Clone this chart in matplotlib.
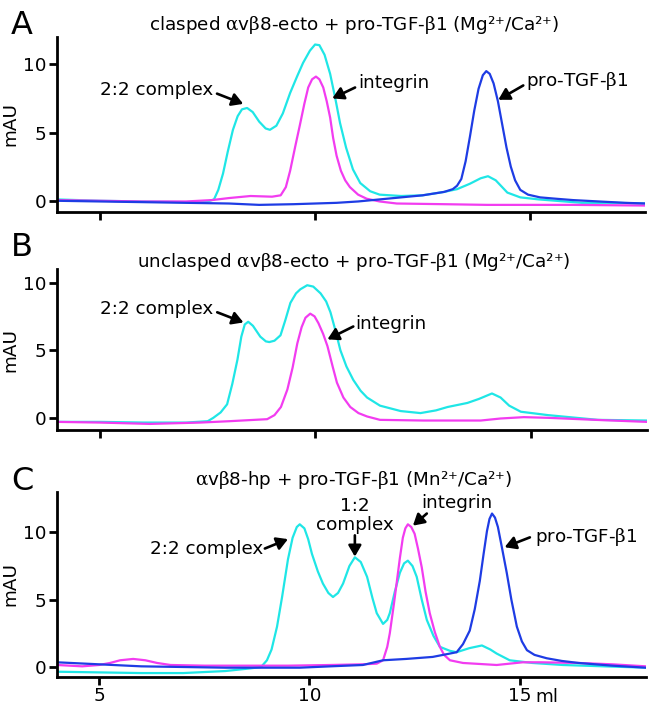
import matplotlib
matplotlib.use("Agg")
import matplotlib.pyplot as plt

plt.rcParams['font.family'] = ['DejaVu Sans']
plt.rcParams['mathtext.fontset'] = 'custom'
plt.rcParams['mathtext.rm'] = 'DejaVu Serif'
plt.rcParams['mathtext.it'] = 'DejaVu Serif:italic'
plt.rcParams['mathtext.bf'] = 'DejaVu Serif:bold'

# ---------------- data (elution volume ml, absorbance mAU) ----------------
a_cyan_x = [4.0, 5.0, 6.0, 7.0, 7.5, 7.65, 7.75, 7.86, 7.97, 8.09, 8.2, 8.3, 8.42, 8.55, 8.7, 8.85,
            8.95, 9.1, 9.25, 9.42, 9.58, 9.72, 9.88, 10.0, 10.1, 10.22, 10.35, 10.47, 10.58, 10.72,
            10.88, 11.05, 11.28, 11.5, 12.0, 12.5, 13.0, 13.3, 13.6, 13.85, 14.02, 14.2, 14.47,
            14.77, 15.2, 16.2, 17.0, 17.7]
a_cyan_y = [0.1, 0.0, -0.05, -0.1, -0.05, 0.1, 0.8, 2.0, 3.6, 5.2, 6.2, 6.7, 6.8, 6.5, 5.8, 5.3,
            5.2, 5.5, 6.4, 7.9, 9.1, 10.1, 11.0, 11.45, 11.4, 10.7, 9.3, 7.5, 5.7, 3.9,
            2.3, 1.3, 0.7, 0.45, 0.35, 0.4, 0.65, 0.85, 1.25, 1.65, 1.8, 1.5, 0.6,
            0.25, 0.1, -0.15, -0.15, -0.2]

a_mag_x = [4.0, 5.0, 6.0, 7.0, 7.6, 8.0, 8.5, 9.0, 9.2, 9.32, 9.42, 9.54, 9.65, 9.75, 9.84, 9.93,
           10.02, 10.1, 10.19, 10.27, 10.35, 10.42, 10.5, 10.6, 10.7, 10.81, 11.0, 11.2, 11.5,
           11.9, 13.0, 14.0, 15.0, 16.0, 17.7]
a_mag_y = [0.05, 0.0, -0.05, -0.05, 0.05, 0.2, 0.35, 0.3, 0.4, 1.0, 2.2, 4.0, 5.6, 7.1, 8.3, 8.9,
           9.1, 8.9, 8.3, 7.3, 6.1, 4.6, 3.3, 2.2, 1.5, 1.0, 0.45, 0.15, -0.05,
           -0.2, -0.25, -0.3, -0.3, -0.3, -0.35]

a_blue_x = [4.0, 5.0, 6.0, 7.0, 8.0, 8.7, 9.5, 10.0, 10.5, 11.0, 11.5, 12.0, 12.5, 13.0, 13.2,
            13.3, 13.4, 13.5, 13.6, 13.7, 13.8, 13.9, 13.98, 14.06, 14.15, 14.25, 14.35, 14.45,
            14.55, 14.65, 14.77, 14.95, 15.23, 15.6, 16.0, 16.6, 17.2, 17.7]
a_blue_y = [0.0, -0.05, -0.1, -0.15, -0.2, -0.3, -0.25, -0.2, -0.15, -0.05, 0.1, 0.25, 0.4, 0.65,
            0.85, 1.1, 1.6, 2.9, 4.7, 6.6, 8.2, 9.2, 9.5, 9.3, 8.6, 7.3, 5.6, 3.9,
            2.5, 1.5, 0.8, 0.45, 0.25, 0.15, 0.05, -0.05, -0.15, -0.2]

b_cyan_x = [4.0, 5.0, 6.0, 7.0, 7.5, 7.63, 7.8, 7.95, 8.07, 8.19, 8.28, 8.36, 8.44, 8.55, 8.72,
            8.85, 8.93, 9.05, 9.19, 9.3, 9.42, 9.55, 9.65, 9.81, 9.95, 10.12, 10.25, 10.35, 10.47,
            10.58, 10.72, 10.88, 11.05, 11.2, 11.5, 11.98, 12.44, 12.8, 13.07, 13.53, 13.8, 14.1,
            14.3, 14.5, 14.77, 15.4, 16.56, 17.7]
b_cyan_y = [-0.3, -0.3, -0.35, -0.35, -0.25, 0.0, 0.4, 1.0, 2.5, 4.3, 6.0, 6.9, 7.1, 6.8, 6.0,
            5.65, 5.6, 5.7, 6.1, 7.2, 8.5, 9.2, 9.5, 9.8, 9.7, 9.2, 8.6, 7.8, 6.4,
            5.0, 3.8, 2.8, 2.0, 1.5, 0.9, 0.5, 0.35, 0.55, 0.8, 1.1, 1.4, 1.8,
            1.5, 0.9, 0.45, 0.2, -0.15, -0.2]

b_mag_x = [4.0, 5.0, 6.16, 7.33, 8.0, 8.88, 9.05, 9.2, 9.35, 9.47, 9.58, 9.68, 9.77, 9.88, 9.98,
           10.07, 10.18, 10.28, 10.4, 10.5, 10.65, 10.81, 11.0, 11.2, 11.5, 12.5, 13.84, 14.3,
           14.84, 15.4, 16.5, 17.7]
b_mag_y = [-0.3, -0.35, -0.45, -0.35, -0.25, -0.1, 0.2, 0.8, 2.1, 3.7, 5.5, 6.7, 7.4, 7.7, 7.5,
           7.0, 6.2, 5.3, 3.8, 2.6, 1.5, 0.8, 0.35, 0.1, -0.15, -0.2, -0.2, -0.05,
           0.05, 0.0, -0.15, -0.3]

c_cyan_x = [4.0, 5.0, 6.0, 7.0, 8.0, 8.6, 8.85, 8.99, 9.1, 9.23, 9.35, 9.49, 9.6, 9.7, 9.77, 9.88,
            9.97, 10.06, 10.2, 10.32, 10.45, 10.56, 10.68, 10.8, 10.95, 11.08, 11.22, 11.37, 11.5,
            11.6, 11.75, 11.85, 11.91, 12.03, 12.15, 12.25, 12.34, 12.45, 12.55, 12.67, 12.79,
            12.95, 13.1, 13.34, 13.5, 13.8, 14.1, 14.3, 14.45, 14.76, 15.3, 16.02, 17.0, 18.0]
c_cyan_y = [-0.35, -0.4, -0.45, -0.45, -0.3, -0.1, 0.0, 0.5, 1.3, 3.0, 5.2, 8.0, 9.6, 10.4, 10.6,
            10.3, 9.5, 8.4, 7.1, 6.2, 5.5, 5.2, 5.5, 6.2, 7.5, 8.15, 7.8, 6.7, 5.1,
            4.0, 3.2, 3.5, 4.0, 5.6, 7.0, 7.7, 7.9, 7.5, 6.7, 5.0, 3.5,
            2.3, 1.5, 1.2, 1.1, 1.4, 1.6, 1.3, 1.0, 0.5, 0.3, 0.15, 0.05, -0.05]

c_mag_x = [4.0, 4.6, 5.0, 5.26, 5.5, 5.81, 6.1, 6.38, 6.7, 7.5, 8.5, 9.5, 10.5, 11.27, 11.6, 11.75,
           11.85, 11.91, 12.0, 12.08, 12.15, 12.22, 12.28, 12.34, 12.42, 12.5, 12.58, 12.67,
           12.76, 12.86, 12.98, 13.1, 13.2, 13.34, 13.65, 14.45, 15.07, 15.5, 16.4, 17.2, 18.0]
c_mag_y = [0.15, 0.05, 0.15, 0.3, 0.5, 0.6, 0.5, 0.3, 0.15, 0.1, 0.1, 0.1, 0.15, 0.2, 0.25, 0.5,
           1.5, 2.5, 4.5, 6.4, 8.1, 9.6, 10.3, 10.6, 10.4, 9.9, 8.8, 7.4,
           5.6, 4.0, 2.6, 1.5, 0.9, 0.5, 0.3, 0.15, 0.35, 0.35, 0.3, 0.2, 0.05]

c_blue_x = [4.0, 5.0, 6.0, 7.0, 8.0, 9.0, 9.77, 10.5, 11.27, 11.75, 12.3, 12.93, 13.34, 13.5,
            13.65, 13.81, 13.93, 14.05, 14.14, 14.22, 14.28, 14.34, 14.41, 14.48, 14.58, 14.69,
            14.8, 14.93, 15.05, 15.17, 15.35, 15.64, 16.0, 16.4, 17.2, 18.0]
c_blue_y = [0.35, 0.2, 0.05, 0.0, -0.05, -0.05, -0.05, 0.05, 0.15, 0.5, 0.6, 0.75, 1.0, 1.1,
            1.7, 2.7, 4.3, 6.4, 8.4, 10.1, 11.0, 11.4, 11.1, 10.4, 8.8, 7.0,
            5.0, 3.0, 1.9, 1.25, 0.9, 0.65, 0.45, 0.3, 0.1, -0.05]

x_ticks = [5, 10, 15]
y_ticks = [0, 5, 10]

titles = [r'clasped $\mathrm{\alpha}$v$\mathrm{\beta}$8-ecto + pro-TGF-$\mathrm{\beta}$1 (Mg²⁺/Ca²⁺)',
          r'unclasped $\mathrm{\alpha}$v$\mathrm{\beta}$8-ecto + pro-TGF-$\mathrm{\beta}$1 (Mg²⁺/Ca²⁺)',
          r'$\mathrm{\alpha}$v$\mathrm{\beta}$8-hp + pro-TGF-$\mathrm{\beta}$1 (Mn²⁺/Ca²⁺)']
panel_letters = ['A', 'B', 'C']

CYAN = '#1fe6e6'
MAG = '#f23cf0'
BLUE = '#1e3ce4'

W, H = 653, 707
fig = plt.figure(figsize=(W / 100, H / 100), dpi=100)

def frac(l, r, top, bot):
    return [l / W, 1 - bot / H, (r - l) / W, (bot - top) / H]

axA = fig.add_axes(frac(57, 645, 37, 211.7))
axB = fig.add_axes(frac(57, 647, 269, 430))
axC = fig.add_axes(frac(57, 646, 492, 676.7))

lw = 1.6
axA.plot(a_cyan_x, a_cyan_y, color=CYAN, lw=lw)
axA.plot(a_mag_x, a_mag_y, color=MAG, lw=lw)
axA.plot(a_blue_x, a_blue_y, color=BLUE, lw=lw)
axA.set_xlim(4.0, 17.67)
axA.set_ylim(-0.8, 12.0)

axB.plot(b_cyan_x, b_cyan_y, color=CYAN, lw=lw)
axB.plot(b_mag_x, b_mag_y, color=MAG, lw=lw)
axB.set_xlim(4.0, 17.7)
axB.set_ylim(-0.9, 11.0)

axC.plot(c_cyan_x, c_cyan_y, color=CYAN, lw=lw)
axC.plot(c_mag_x, c_mag_y, color=MAG, lw=lw)
axC.plot(c_blue_x, c_blue_y, color=BLUE, lw=lw)
axC.set_xlim(4.0, 18.0)
axC.set_ylim(-0.72, 13.0)

FS = 13.2
for ax in (axA, axB, axC):
    for s in ('top', 'right'):
        ax.spines[s].set_visible(False)
    for s in ('left', 'bottom'):
        ax.spines[s].set_linewidth(2.0)
    ax.set_xticks(x_ticks)
    ax.set_yticks(y_ticks)
    ax.tick_params(direction='out', length=5.5, width=2.0, labelsize=FS, pad=2.0)
    ax.set_ylabel('mAU', fontsize=FS, labelpad=3)
    ax.patch.set_alpha(0)

axA.set_xticklabels([])
axB.set_xticklabels([])
axC.set_xticklabels(['5', '10', '15'])
axC.annotate('ml', xy=(15.36, 0), xycoords=('data', 'axes fraction'),
             xytext=(0, -14.5), textcoords='offset points', ha='left', va='center',
             fontsize=FS, annotation_clip=False)

# titles and panel letters
title_py = [25, 262, 480]
letter_py = [25, 248, 482]
for t, ty, L, ly in zip(titles, title_py, panel_letters, letter_py):
    fig.text(354 / W, 1 - ty / H, t, ha='center', va='center', fontsize=FS)
    fig.text(22 / W, 1 - ly / H, L, ha='center', va='center', fontsize=23)

arrow_kw = dict(arrowstyle='-|>,head_length=0.55,head_width=0.32', color='black', lw=1.9,
                shrinkA=0, shrinkB=0, mutation_scale=12)

def label(ax, txt, x, y, ha):
    ax.text(x, y, txt, ha=ha, va='center', fontsize=FS, clip_on=False)

def arrow(ax, tail, tip):
    ax.annotate('', xy=tip, xytext=tail, arrowprops=arrow_kw, annotation_clip=False)

# Panel A
label(axA, '2:2 complex', 7.63, 8.1, 'right')
arrow(axA, (7.72, 7.85), (8.33, 7.1))
label(axA, 'integrin', 11.0, 8.6, 'left')
arrow(axA, (10.93, 8.3), (10.4, 7.5))
label(axA, r'pro-TGF-$\mathrm{\beta}$1', 14.9, 8.8, 'left')
arrow(axA, (14.84, 8.45), (14.26, 7.4))

# Panel B
label(axB, '2:2 complex', 7.63, 8.07, 'right')
arrow(axB, (7.72, 7.8), (8.33, 7.05))
label(axB, 'integrin', 10.93, 6.9, 'left')
arrow(axB, (10.88, 6.75), (10.28, 5.8))

# Panel C
label(axC, '2:2 complex', 8.9, 8.74, 'right')
arrow(axC, (8.94, 8.8), (9.49, 9.5))
axC.text(11.08, 11.26, '1:2\ncomplex', ha='center', va='center', fontsize=FS,
         linespacing=1.1, clip_on=False)
arrow(axC, (11.08, 9.78), (11.08, 8.2))
label(axC, 'integrin', 13.5, 12.2, 'center')
arrow(axC, (12.79, 11.4), (12.46, 10.5))
label(axC, r'pro-TGF-$\mathrm{\beta}$1', 15.36, 9.63, 'left')
arrow(axC, (15.24, 9.63), (14.64, 8.9))

fig.savefig('out.png', dpi=100)
